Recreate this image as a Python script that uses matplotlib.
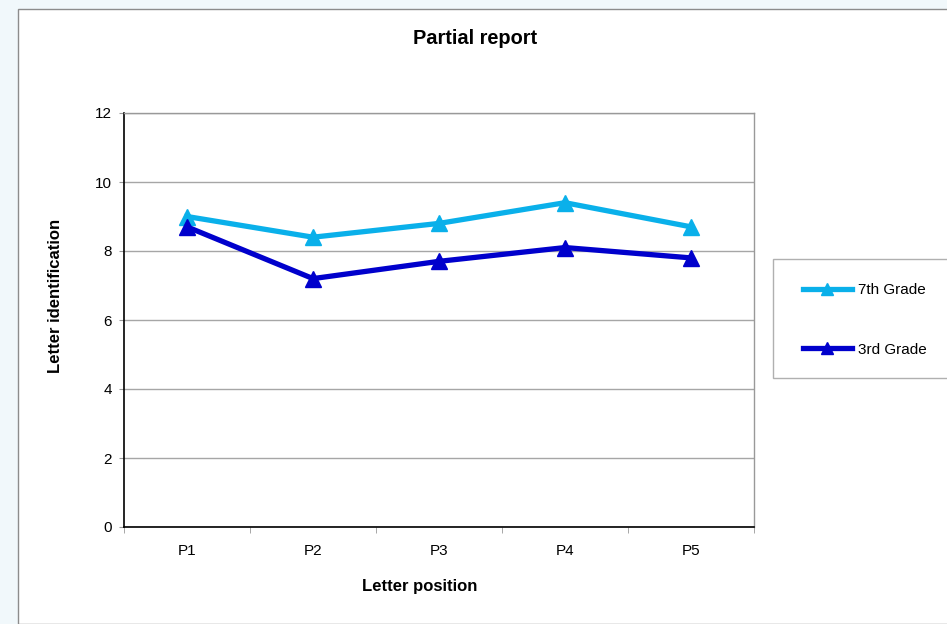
import matplotlib.pyplot as plt
from matplotlib.patches import Rectangle

plt.rcParams['font.family'] = ['Liberation Sans', 'DejaVu Sans']

positions = ["P1", "P2", "P3", "P4", "P5"]
grade7 = [9.0, 8.4, 8.8, 9.4, 8.7]
grade3 = [8.7, 7.2, 7.7, 8.1, 7.8]
yticks = [0, 2, 4, 6, 8, 10, 12]

W, H = 947, 624
fig = plt.figure(figsize=(W / 100, H / 100), dpi=100, facecolor="#f1f8fb")

# white chart panel with thin grey border
fig.patches.append(Rectangle((18 / W, 0), 1.0, 1 - 9 / H, transform=fig.transFigure,
                             facecolor="white", edgecolor="#8c8c8c", lw=1.0, zorder=-1))

ax = fig.add_axes([124 / W, 1 - 527 / H, (754 - 124) / W, (527 - 113) / H])
ax.set_zorder(2)
ax.set_facecolor("white")

x = list(range(len(positions)))
ax.plot(x, grade7, color="#0ab0ea", lw=3.8, marker="^", ms=12, label="7th Grade",
        solid_joinstyle="miter", zorder=3)
ax.plot(x, grade3, color="#0000cc", lw=3.8, marker="^", ms=12, label="3rd Grade",
        solid_joinstyle="miter", zorder=3)

ax.set_xlim(-0.5, len(positions) - 0.5)
ax.set_ylim(0, 12)
ax.set_yticks(yticks)
ax.set_yticklabels([str(v) for v in yticks], fontsize=11)
ax.set_xticks(x)
ax.set_xticklabels(positions, fontsize=11)
ax.set_xticks([i - 0.5 for i in range(len(positions) + 1)], minor=True)
ax.tick_params(axis="x", which="major", length=0, pad=12)
ax.tick_params(axis="x", which="minor", length=4, color="#999999", direction="out")
ax.tick_params(axis="y", length=3.5, color="#999999", pad=5)

ax.grid(axis="y", color="#a6a6a6", lw=1.0)
ax.set_axisbelow(True)
for side in ("left", "bottom"):
    ax.spines[side].set_color("black")
    ax.spines[side].set_linewidth(1.2)
for side in ("top", "right"):
    ax.spines[side].set_color("#999999")
    ax.spines[side].set_linewidth(1.0)

fig.text(475 / W, 1 - 38 / H, "Partial report", ha="center", va="center",
         fontsize=14.4, fontweight="bold")
fig.text(420 / W, 1 - 586 / H, "Letter position", ha="center", va="center",
         fontsize=12, fontweight="bold")
fig.text(56 / W, 1 - 296 / H, "Letter identification", ha="center", va="center",
         rotation=90, fontsize=12, fontweight="bold")

# legend box
fig.patches.append(Rectangle((773 / W, 1 - 378 / H), 0.5, (378 - 259) / H,
                             transform=fig.transFigure, facecolor="white",
                             edgecolor="#b0b0b0", lw=1.0, zorder=1))
leg = fig.legend(loc="center left", bbox_to_anchor=(789 / W, 1 - 320 / H),
                 frameon=False, fontsize=11, handlelength=3.2, handletextpad=0.4,
                 labelspacing=2.95, markerscale=0.75)
leg.set_zorder(3)

fig.savefig("out.png", dpi=100, facecolor=fig.get_facecolor())
